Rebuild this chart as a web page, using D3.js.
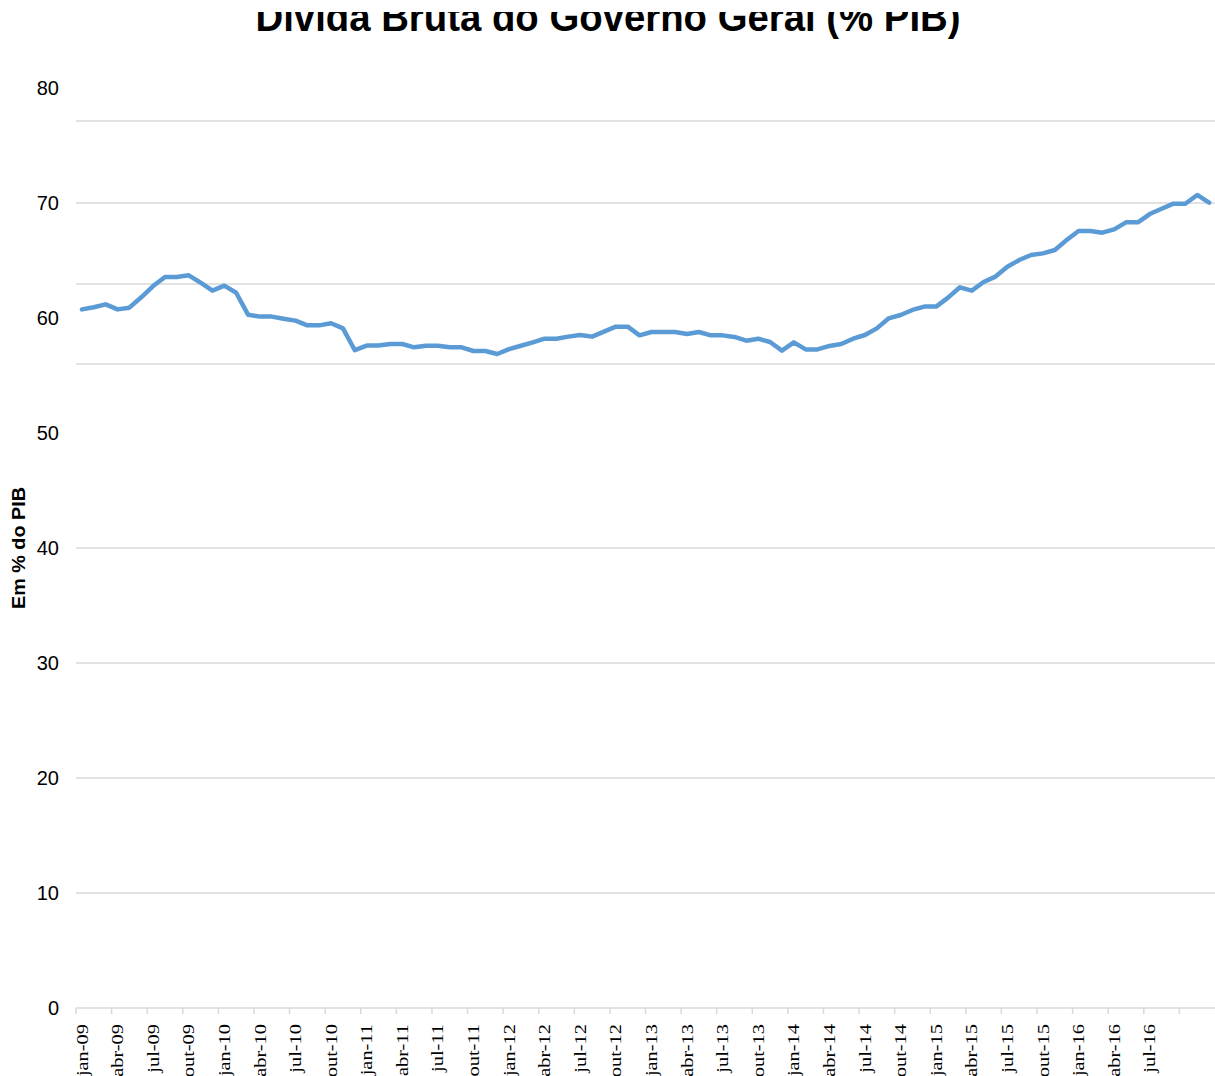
<!DOCTYPE html>
<html>
<head>
<meta charset="utf-8">
<script src="https://cdn.jsdelivr.net/npm/d3@7"></script>
<style>
  body { margin: 0; background: #fff; }
  svg { display: block; }
</style>
</head>
<body>
<div id="chart"></div>
<script>
// --- Data ---
const monthNames = ["jan", "fev", "mar", "abr", "mai", "jun", "jul", "ago", "set", "out", "nov", "dez"];
const years = ["09", "10", "11", "12", "13", "14", "15", "16"];

// Dívida bruta do governo geral, % do PIB, jan-09 a dez-16
const debt = [
  60.75, 60.93, 61.19, 60.75, 60.9, 61.8, 62.78, 63.57, 63.57, 63.71, 63.07, 62.38,
  62.81, 62.2, 60.29, 60.12, 60.12, 59.94, 59.77, 59.36, 59.36, 59.54, 59.1, 57.2,
  57.6, 57.6, 57.74, 57.74, 57.45, 57.59, 57.59, 57.45, 57.45, 57.13, 57.13, 56.87,
  57.3, 57.59, 57.88, 58.2, 58.2, 58.38, 58.52, 58.38, 58.81, 59.25, 59.25, 58.49,
  58.78, 58.78, 58.78, 58.61, 58.78, 58.49, 58.49, 58.35, 58.03, 58.2, 57.91, 57.16,
  57.88, 57.27, 57.27, 57.57, 57.74, 58.2, 58.52, 59.1, 59.97, 60.26, 60.7, 60.99,
  60.99, 61.77, 62.67, 62.38, 63.13, 63.6, 64.46, 65.04, 65.48, 65.62, 65.91, 66.78,
  67.57, 67.57, 67.42, 67.71, 68.32, 68.32, 69.04, 69.5, 69.94, 69.94, 70.7, 70.03
];

const yTicks = [0, 10, 20, 30, 40, 50, 60, 70, 80];
// gridlines as they appear in the original picture
const gridValues = [77.13, 70, 62.96, 56, 40, 30, 20, 10];

const months = [];
years.forEach(yr => monthNames.forEach(m => months.push(`${m}-${yr}`)));
const data = months.map((m, i) => ({ month: m, value: debt[i] }));
const labelMonths = months.filter((m, i) => i % 3 === 0 && i < 93);

// --- Chart ---
const W = 1215, H = 1076;
const plot = { left: 76, right: 1215, top: 88, bottom: 1008 };

const svg = d3.select("#chart").append("svg")
    .attr("width", W)
    .attr("height", H);

const x = d3.scaleBand()
    .domain(months)
    .range([plot.left, plot.right]);

const y = d3.scaleLinear()
    .domain([0, 80])
    .range([plot.bottom, plot.top]);

// Title (cut at the top as in the original)
svg.append("clipPath").attr("id", "titleClip")
  .append("rect")
    .attr("x", 0).attr("y", 12)
    .attr("width", W).attr("height", 40);

svg.append("text")
    .attr("clip-path", "url(#titleClip)")
    .attr("x", 608)
    .attr("y", 31)
    .attr("text-anchor", "middle")
    .attr("font-family", "Liberation Sans, Arial, sans-serif")
    .attr("font-weight", "bold")
    .attr("font-size", "41px")
    .attr("textLength", 705)
    .attr("lengthAdjust", "spacingAndGlyphs")
    .text("Dívida Bruta do Governo Geral (%  PIB)");

// Gridlines
svg.append("g")
  .selectAll("line")
  .data(gridValues)
  .enter().append("line")
    .attr("x1", plot.left)
    .attr("x2", plot.right)
    .attr("y1", d => y(d))
    .attr("y2", d => y(d))
    .attr("stroke", "#d9d9d9")
    .attr("stroke-width", 1.5);

// Y axis labels
const yAxis = svg.append("g")
    .attr("transform", `translate(${plot.left},0)`)
    .call(d3.axisLeft(y).tickValues(yTicks).tickSize(0).tickPadding(17));
yAxis.select(".domain").remove();
yAxis.selectAll("text")
    .attr("font-family", "Liberation Sans, Arial, sans-serif")
    .attr("font-size", "20px")
    .attr("fill", "#000");

// X axis line and ticks
svg.append("line")
    .attr("x1", plot.left)
    .attr("x2", plot.right)
    .attr("y1", plot.bottom)
    .attr("y2", plot.bottom)
    .attr("stroke", "#d9d9d9")
    .attr("stroke-width", 1.5);

svg.append("g")
  .selectAll("line")
  .data(months.filter((m, i) => i % 3 === 0))
  .enter().append("line")
    .attr("x1", d => x(d))
    .attr("x2", d => x(d))
    .attr("y1", plot.bottom)
    .attr("y2", plot.bottom + 6)
    .attr("stroke", "#d9d9d9")
    .attr("stroke-width", 1.5);

// X labels (rotated, serif)
svg.append("g")
  .selectAll("text")
  .data(labelMonths)
  .enter().append("text")
    .attr("transform", d => `translate(${x(d) + x.bandwidth() / 2},${plot.bottom + 16}) rotate(-90) scale(1.2,1)`)
    .attr("dy", "0.33em")
    .attr("text-anchor", "end")
    .attr("font-family", "Liberation Serif, Times New Roman, serif")
    .attr("font-size", "17px")
    .attr("fill", "#000")
    .text(d => d);

// Y axis title
svg.append("text")
    .attr("transform", "translate(25,548) rotate(-90)")
    .attr("text-anchor", "middle")
    .attr("font-family", "Liberation Sans, Arial, sans-serif")
    .attr("font-weight", "bold")
    .attr("font-size", "19px")
    .attr("textLength", 122)
    .attr("lengthAdjust", "spacingAndGlyphs")
    .text("Em % do PIB");

// Line
const line = d3.line()
    .x(d => x(d.month) + x.bandwidth() / 2)
    .y(d => y(d.value));

svg.append("path")
    .datum(data)
    .attr("fill", "none")
    .attr("stroke", "#5b9bd5")
    .attr("stroke-width", 4.5)
    .attr("stroke-linejoin", "round")
    .attr("stroke-linecap", "round")
    .attr("d", line);
</script>
</body>
</html>
